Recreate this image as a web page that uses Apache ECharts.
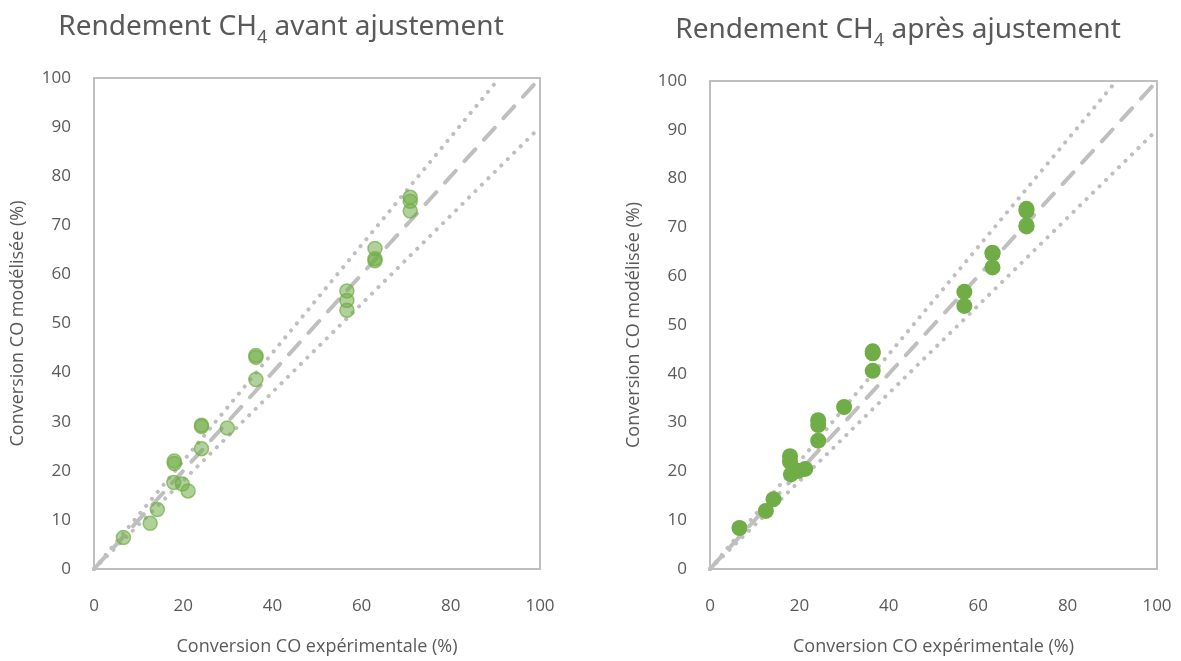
<!DOCTYPE html>
<html><head><meta charset="utf-8">
<script src="https://cdn.jsdelivr.net/npm/echarts@6/dist/echarts.min.js"></script>
<style>html,body{margin:0;padding:0;background:#fff}#c{width:1181px;height:661px}</style>
</head><body><div id="c"></div>
<script>
// Data: experimental CO conversion (%) vs modelled CO conversion (%)
var avantX = [6.6, 12.6, 14.2, 18.0, 18.0, 17.9, 19.8, 21.1, 24.1, 24.1, 24.1, 29.9, 36.3, 36.3, 36.3, 56.7, 56.7, 56.7, 63.0, 63.0, 63.0, 70.9, 70.9, 70.9];
var avantY = [6.4, 9.3, 12.1, 21.5, 22.0, 17.6, 17.3, 15.9, 29.0, 29.3, 24.5, 28.7, 43.1, 43.5, 38.6, 56.6, 54.7, 52.7, 65.3, 62.8, 63.2, 75.7, 74.9, 72.9];
var apresX = [6.6, 12.5, 14.2, 17.9, 17.9, 18.1, 19.8, 21.3, 24.2, 24.2, 24.2, 30.0, 36.4, 36.4, 36.4, 56.9, 56.9, 63.2, 63.2, 63.2, 70.8, 70.8, 70.8, 70.8];
var apresY = [8.4, 11.9, 14.3, 23.1, 22.0, 19.4, 20.1, 20.5, 30.5, 29.5, 26.3, 33.2, 44.2, 44.6, 40.6, 56.8, 53.9, 64.6, 64.8, 61.8, 73.4, 73.8, 70.2, 70.4];
// Reference lines (parity, +10 %, -10 %)
var lineParity = [[0, 0], [100, 100]];
var lineUpper = [[0, 0], [90.9, 100]];
var lineLower = [[0, 0], [100, 90]];
var axisTicks = [0, 20, 40, 60, 80, 100];
var titles = ['avant ajustement', 'après ajustement'];
var xTitle = 'Conversion CO expérimentale (%)';
var yTitle = 'Conversion CO modélisée (%)';

function zip(xs, ys) { return xs.map(function (x, i) { return [x, ys[i]]; }); }

var gray = '#bfbfbf';
var txt = '#595959';
var green = '#70ad47';
var font = 'Open Sans';

var grids = [
  { left: 94, right: 641, top: 78, bottom: 87 },
  { left: 710, right: 24, top: 81, bottom: 85 }
];
var titleCenters = [[276, 2], [893, 5]];

function mkTitle(i) {
  return {
    text: '{a|Rendement CH}{s|4}{a| ' + titles[i] + '}',
    left: titleCenters[i][0], top: titleCenters[i][1], textAlign: 'center',
    textStyle: {
      fontWeight: 'normal',
      rich: {
        a: { fontFamily: 'Noto Sans', fontWeight: 'normal', fontSize: 28, color: txt, lineHeight: 40, verticalAlign: 'middle' },
        s: { fontFamily: 'Noto Sans', fontWeight: 'normal', fontSize: 18, color: txt, lineHeight: 18, verticalAlign: 'bottom' }
      }
    }
  };
}

function mkX(i) {
  return {
    gridIndex: i, type: 'value', min: 0, max: 100, interval: 20,
    axisLine: { show: false }, axisTick: { show: false }, splitLine: { show: false },
    axisLabel: { color: txt, fontFamily: font, fontSize: 17, margin: 29 },
    name: xTitle, nameLocation: 'middle', nameGap: 69,
    nameTextStyle: { color: txt, fontFamily: font, fontSize: 18 }
  };
}
function mkY(i) {
  return {
    gridIndex: i, type: 'value', min: 0, max: 100, interval: 10,
    axisLine: { show: false }, axisTick: { show: false }, splitLine: { show: false },
    axisLabel: { color: txt, fontFamily: font, fontSize: 17, margin: 23 },
    name: yTitle, nameLocation: 'middle', nameGap: 67, nameRotate: 90,
    nameTextStyle: { color: txt, fontFamily: font, fontSize: 18 }
  };
}

function refLines(i) {
  var base = { type: 'line', xAxisIndex: i, yAxisIndex: i, symbol: 'none', silent: true, z: 1, animation: false };
  return [
    Object.assign({}, base, { data: lineParity, lineStyle: { color: gray, width: 4, type: [16, 13], cap: 'round' } }),
    Object.assign({}, base, { data: lineUpper, lineStyle: { color: gray, width: 4, type: [0.1, 9], cap: 'round' } }),
    Object.assign({}, base, { data: lineLower, lineStyle: { color: gray, width: 4, type: [0.1, 9], cap: 'round' } })
  ];
}

var series = [].concat(refLines(0), refLines(1), [
  {
    type: 'scatter', xAxisIndex: 0, yAxisIndex: 0, z: 5, animation: false,
    data: zip(avantX, avantY), symbolSize: 14,
    itemStyle: { color: 'rgba(112,173,71,0.55)', borderColor: 'rgba(112,173,71,0.7)', borderWidth: 1.5, opacity: 1 }
  },
  {
    type: 'scatter', xAxisIndex: 1, yAxisIndex: 1, z: 5, animation: false,
    data: zip(apresX, apresY), symbolSize: 16,
    itemStyle: { color: green, opacity: 1 }
  }
]);

var chart = echarts.init(document.getElementById('c'));
chart.setOption({
  backgroundColor: '#fff',
  animation: false,
  title: [mkTitle(0), mkTitle(1)],
  grid: grids.map(function (g) { return Object.assign({ show: true, borderColor: gray, borderWidth: 2, backgroundColor: 'transparent' }, g); }),
  xAxis: [mkX(0), mkX(1)],
  yAxis: [mkY(0), mkY(1)],
  series: series
});
</script></body></html>
